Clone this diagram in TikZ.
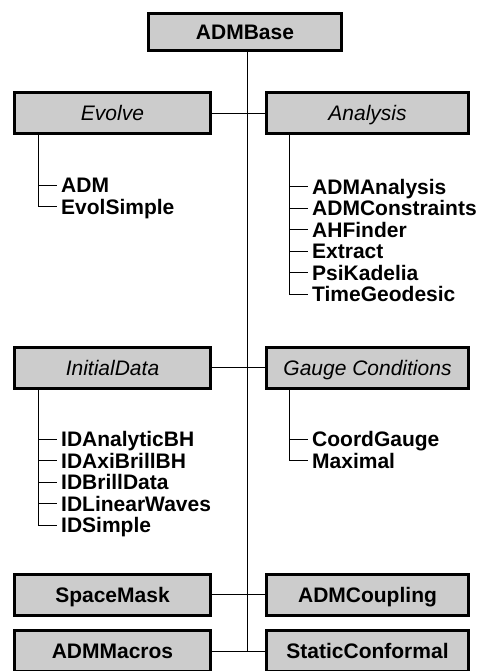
\documentclass[tikz,border=0pt]{standalone}
\usepackage{fontspec}
\setmainfont{Liberation Sans}
\definecolor{boxgray}{RGB}{204,204,204}
\begin{document}
\begin{tikzpicture}[x=1pt,y=-1pt,
  thornbox/.style={draw=black,line width=3pt,fill=boxgray,inner sep=0pt,
    minimum height=41pt,text height=15pt,text depth=0pt,
    font=\fontsize{21}{21}\selectfont},
  leftbox/.style={thornbox,minimum width=196pt},
  rightbox/.style={thornbox,minimum width=202pt},
  boldbox/.style={font=\fontsize{21}{21}\selectfont\bfseries},
  thornitem/.style={anchor=west,inner sep=0pt,inner xsep=4pt,text height=15pt,
    text depth=0pt,font=\fontsize{21}{21}\selectfont\bfseries},
  wire/.style={draw=black,line width=0.9pt}]
\useasboundingbox (0,0) rectangle (483,671);

% rails for the trunk and the two package lists
\coordinate (trunk) at (247,652);
\coordinate (railL) at (38,0);
\coordinate (railR) at (289,0);

% root and category boxes
\node[thornbox,boldbox,minimum width=193pt,minimum height=37pt] (base) at (245,32) {ADMBase};
\node[leftbox]  (evolve)   at (112.5,113)   {\itshape Evolve};
\node[rightbox] (analysis) at (367.5,113)   {\itshape Analysis};
\node[leftbox]  (initial)  at (112.5,367.5) {\itshape InitialData};
\node[rightbox] (gauge)    at (367.5,367.5) {\itshape Gauge Conditions};
\node[leftbox,boldbox]  (spacemask) at (112.5,594.5) {SpaceMask};
\node[rightbox,boldbox] (coupling)  at (367.5,594.5) {ADMCoupling};
\node[leftbox,boldbox]  (macros)    at (112.5,651)   {ADMMacros};
\node[rightbox,boldbox] (static)    at (367.5,651)   {StaticConformal};

% package lists
\node[thornitem] (adm)  at (57,185)   {ADM};
\node[thornitem] (evsi) at (57,206.5) {EvolSimple};

\node[thornitem] (ana)  at (308,186.5) {ADMAnalysis};
\node[thornitem] (con)  at (308,208)   {ADMConstraints};
\node[thornitem] (ahf)  at (308,229.5) {AHFinder};
\node[thornitem] (ext)  at (308,251)   {Extract};
\node[thornitem] (psi)  at (308,272.5) {PsiKadelia};
\node[thornitem] (tgeo) at (308,294)   {TimeGeodesic};

\node[thornitem] (idab) at (57,439)   {IDAnalyticBH};
\node[thornitem] (idax) at (57,460.5) {IDAxiBrillBH};
\node[thornitem] (idbd) at (57,482)   {IDBrillData};
\node[thornitem] (idlw) at (57,503.5) {IDLinearWaves};
\node[thornitem] (idsi) at (57,525)   {IDSimple};

\node[thornitem] (cgau) at (308,439)   {CoordGauge};
\node[thornitem] (maxi) at (308,460.5) {Maximal};

% connectors
\draw[wire] (base.south -| trunk) -- (trunk);
\draw[wire] (evolve.east) -- (analysis.west);
\draw[wire] (initial.east) -- (gauge.west);
\draw[wire] (spacemask.east) -- (coupling.west);
\draw[wire] (macros.east) -- (static.west);

\draw[wire] (evolve.south -| railL) |- (evsi.west);
\draw[wire] (adm.west -| railL) -- (adm.west);

\draw[wire] (analysis.south -| railR) |- (tgeo.west);
\foreach \n in {ana,con,ahf,ext,psi}
  \draw[wire] (\n.west -| railR) -- (\n.west);

\draw[wire] (initial.south -| railL) |- (idsi.west);
\foreach \n in {idab,idax,idbd,idlw}
  \draw[wire] (\n.west -| railL) -- (\n.west);

\draw[wire] (gauge.south -| railR) |- (maxi.west);
\draw[wire] (cgau.west -| railR) -- (cgau.west);
\end{tikzpicture}
\end{document}
